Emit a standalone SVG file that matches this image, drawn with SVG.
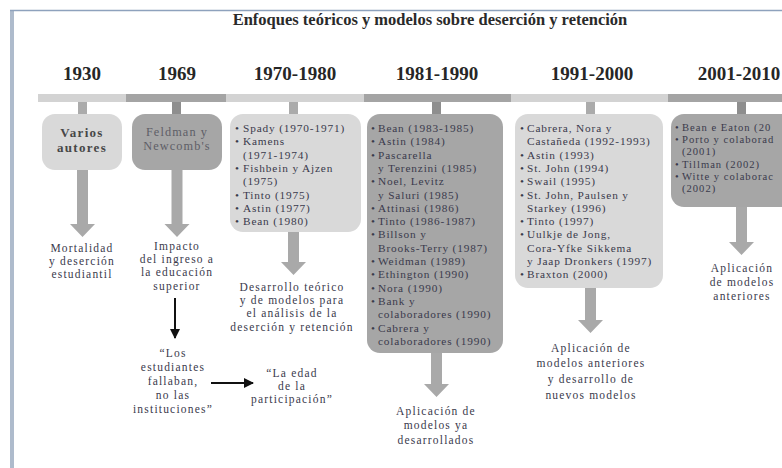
<svg xmlns="http://www.w3.org/2000/svg" width="782" height="468" viewBox="0 0 782 468">
<defs>
<style>
text{font-family:"Liberation Serif","DejaVu Serif",serif;fill:#3a3a4c}
.title{font-size:16.5px;font-weight:bold;fill:#2a2a2a}
.year{font-size:19px;font-weight:bold;fill:#262626;text-anchor:middle}
.lt{fill:#d9d9d9}
.dk{fill:#a6a6a6}
.barl{fill:#d3d3d3}
.bard{fill:#a4a4a4}
.stl{fill:#ababab}
.std{fill:#8e8e8e}
.arr{fill:#a9a9a9}
.lst{font-size:11.3px;letter-spacing:0.85px}
.lst2{font-size:10.6px;letter-spacing:1px}
.res{font-size:11.5px;letter-spacing:1.2px;text-anchor:middle}
.blk{stroke:#111;stroke-width:2;fill:none}
</style>
<marker id="ah" viewBox="0 0 10 10" refX="9" refY="5" markerWidth="5" markerHeight="5" orient="auto" markerUnits="strokeWidth">
<path d="M0,0 L10,5 L0,10 z" fill="#111"/>
</marker>
</defs>
<rect x="0" y="0" width="782" height="468" fill="#ffffff"/>
<rect x="10" y="10" width="4" height="458" fill="#aebbcc"/>
<line x1="10" y1="10.5" x2="782" y2="10.5" stroke="#8ea2bd" stroke-width="1.5"/>

<text class="title" x="430" y="25" text-anchor="middle">Enfoques teóricos y modelos sobre deserción y retención</text>

<g id="timeline">
<rect class="barl" x="38" y="94" width="88" height="8"/>
<rect class="bard" x="126" y="94" width="100" height="8"/>
<rect class="barl" x="226" y="94" width="138" height="8"/>
<rect class="bard" x="364" y="94" width="147" height="8"/>
<rect class="barl" x="511" y="94" width="157" height="8"/>
<rect class="bard" x="668" y="94" width="114" height="8"/>
<text class="year" x="82" y="80">1930</text>
<text class="year" x="177" y="80">1969</text>
<text class="year" x="295" y="80">1970-1980</text>
<text class="year" x="437" y="80">1981-1990</text>
<text class="year" x="592" y="80">1991-2000</text>
<text class="year" x="739" y="80">2001-2010</text>
</g>

<g id="connectors">
<rect class="stl" x="78" y="102" width="9" height="13"/>
<rect class="std" x="172" y="102" width="9" height="13"/>
<rect class="stl" x="289" y="102" width="9" height="13"/>
<rect class="std" x="432" y="102" width="9" height="13"/>
<rect class="stl" x="586" y="102" width="9" height="13"/>
<rect class="std" x="737" y="102" width="9" height="13"/>
<polygon class="arr" points="77,170 88,170 88,224 95,224 82.5,237 70,224 77,224"/>
<polygon class="arr" points="171.5,170 182.5,170 182.5,224 189.5,224 177,237 164.5,224 171.5,224"/>
<polygon class="arr" points="288,232 299,232 299,262 306,262 293.5,275 281,262 288,262"/>
<polygon class="arr" points="431,353 442,353 442,384 449,384 436.5,397 424,384 431,384"/>
<polygon class="arr" points="585,288 596,288 596,320 603,320 590.5,333 578,320 585,320"/>
<polygon class="arr" points="736,207 747,207 747,242 754,242 741.5,255 729,242 736,242"/>
<line class="blk" x1="175" y1="298" x2="175" y2="338" marker-end="url(#ah)"/>
<line class="blk" x1="211" y1="383" x2="253" y2="383" marker-end="url(#ah)"/>
</g>

<g id="n1930">
<rect class="lt" x="42" y="114" width="80" height="56" rx="13"/>
<text x="82" y="137" text-anchor="middle" font-size="13" font-weight="bold" letter-spacing="1.3" style="fill:#474747">Varios</text>
<text x="82" y="152" text-anchor="middle" font-size="13" font-weight="bold" letter-spacing="1.3" style="fill:#474747">autores</text>
</g>
<g id="r1930">
<text class="res" x="82" y="252">Mortalidad</text>
<text class="res" x="82" y="265">y deserción</text>
<text class="res" x="82" y="278">estudiantil</text>
</g>

<g id="n1969">
<rect class="dk" x="132" y="114" width="90" height="56" rx="13"/>
<text x="177" y="136" text-anchor="middle" font-size="12.3" letter-spacing="1.1" style="fill:#5e5e66">Feldman y</text>
<text x="177" y="150" text-anchor="middle" font-size="12.3" letter-spacing="1.1" style="fill:#5e5e66">Newcomb's</text>
</g>
<g id="r1969">
<text class="res" x="177" y="250">Impacto</text>
<text class="res" x="177" y="263">del ingreso a</text>
<text class="res" x="177" y="276">la educación</text>
<text class="res" x="177" y="290">superior</text>
</g>
<g id="q1">
<text class="res" x="173" y="357">“Los</text>
<text class="res" x="173" y="371">estudiantes</text>
<text class="res" x="173" y="385">fallaban,</text>
<text class="res" x="173" y="399">no las</text>
<text class="res" x="173" y="413">instituciones”</text>
</g>
<g id="q2">
<text class="res" x="292" y="377">“La edad</text>
<text class="res" x="292" y="390">de la</text>
<text class="res" x="292" y="403">participación”</text>
</g>

<g id="n1970">
<rect class="lt" x="230" y="114" width="131" height="118" rx="13"/>
<text class="lst">
<tspan x="235" y="132">•</tspan><tspan x="243" y="132">Spady (1970-1971)</tspan>
<tspan x="235" y="145.3">•</tspan><tspan x="243" y="145.3">Kamens</tspan>
<tspan x="243" y="158.6">(1971-1974)</tspan>
<tspan x="235" y="171.9">•</tspan><tspan x="243" y="171.9">Fishbein y Ajzen</tspan>
<tspan x="243" y="185.2">(1975)</tspan>
<tspan x="235" y="198.5">•</tspan><tspan x="243" y="198.5">Tinto (1975)</tspan>
<tspan x="235" y="211.8">•</tspan><tspan x="243" y="211.8">Astin (1977)</tspan>
<tspan x="235" y="225.1">•</tspan><tspan x="243" y="225.1">Bean (1980)</tspan>
</text>
</g>
<g id="r1970">
<text class="res" x="292" y="291">Desarrollo teórico</text>
<text class="res" x="292" y="304">y de modelos para</text>
<text class="res" x="292" y="317">el análisis de la</text>
<text class="res" x="292" y="331">deserción y retención</text>
</g>

<g id="n1981">
<rect class="dk" x="367" y="114" width="136" height="239" rx="13"/>
<text class="lst">
<tspan x="371" y="132">•</tspan><tspan x="378" y="132">Bean (1983-1985)</tspan>
<tspan x="371" y="145.3">•</tspan><tspan x="378" y="145.3">Astin (1984)</tspan>
<tspan x="371" y="158.6">•</tspan><tspan x="378" y="158.6">Pascarella</tspan>
<tspan x="378" y="171.9">y Terenzini (1985)</tspan>
<tspan x="371" y="185.2">•</tspan><tspan x="378" y="185.2">Noel, Levitz</tspan>
<tspan x="378" y="198.5">y Saluri (1985)</tspan>
<tspan x="371" y="211.8">•</tspan><tspan x="378" y="211.8">Attinasi (1986)</tspan>
<tspan x="371" y="225.1">•</tspan><tspan x="378" y="225.1">Tinto (1986-1987)</tspan>
<tspan x="371" y="238.4">•</tspan><tspan x="378" y="238.4">Billson y</tspan>
<tspan x="378" y="251.7">Brooks-Terry (1987)</tspan>
<tspan x="371" y="265">•</tspan><tspan x="378" y="265">Weidman (1989)</tspan>
<tspan x="371" y="278.3">•</tspan><tspan x="378" y="278.3">Ethington (1990)</tspan>
<tspan x="371" y="291.6">•</tspan><tspan x="378" y="291.6">Nora (1990)</tspan>
<tspan x="371" y="304.9">•</tspan><tspan x="378" y="304.9">Bank y</tspan>
<tspan x="378" y="318.2">colaboradores (1990)</tspan>
<tspan x="371" y="331.5">•</tspan><tspan x="378" y="331.5">Cabrera y</tspan>
<tspan x="378" y="344.8">colaboradores (1990)</tspan>
</text>
</g>
<g id="r1981">
<text class="res" x="436" y="415">Aplicación de</text>
<text class="res" x="436" y="429">modelos  ya</text>
<text class="res" x="436" y="444">desarrollados</text>
</g>

<g id="n1991">
<rect class="lt" x="515" y="114" width="148" height="174" rx="13"/>
<text class="lst">
<tspan x="520" y="132">•</tspan><tspan x="527" y="132">Cabrera, Nora y</tspan>
<tspan x="527" y="145.3">Castañeda (1992-1993)</tspan>
<tspan x="520" y="158.6">•</tspan><tspan x="527" y="158.6">Astin (1993)</tspan>
<tspan x="520" y="171.9">•</tspan><tspan x="527" y="171.9">St. John (1994)</tspan>
<tspan x="520" y="185.2">•</tspan><tspan x="527" y="185.2">Swail (1995)</tspan>
<tspan x="520" y="198.5">•</tspan><tspan x="527" y="198.5">St. John, Paulsen y</tspan>
<tspan x="527" y="211.8">Starkey (1996)</tspan>
<tspan x="520" y="225.1">•</tspan><tspan x="527" y="225.1">Tinto (1997)</tspan>
<tspan x="520" y="238.4">•</tspan><tspan x="527" y="238.4">Uulkje de Jong,</tspan>
<tspan x="527" y="251.7">Cora-Yfke Sikkema</tspan>
<tspan x="527" y="265">y Jaap Dronkers (1997)</tspan>
<tspan x="520" y="278.3">•</tspan><tspan x="527" y="278.3">Braxton (2000)</tspan>
</text>
</g>
<g id="r1991">
<text class="res" x="591" y="352">Aplicación de</text>
<text class="res" x="591" y="367">modelos anteriores</text>
<text class="res" x="591" y="383">y desarrollo de</text>
<text class="res" x="591" y="399">nuevos modelos</text>
</g>

<g id="n2001">
<rect class="dk" x="671" y="114" width="125" height="93" rx="13"/>
<text class="lst2">
<tspan x="675" y="131">•</tspan><tspan x="682" y="131">Bean e Eaton (20</tspan>
<tspan x="675" y="143.2">•</tspan><tspan x="682" y="143.2">Porto  y colaborad</tspan>
<tspan x="682" y="155.4">(2001)</tspan>
<tspan x="675" y="167.6">•</tspan><tspan x="682" y="167.6">Tillman (2002)</tspan>
<tspan x="675" y="179.8">•</tspan><tspan x="682" y="179.8">Witte y colaborac</tspan>
<tspan x="682" y="192">(2002)</tspan>
</text>
</g>
<g id="r2001">
<text class="res" x="742" y="272">Aplicación</text>
<text class="res" x="742" y="286">de modelos</text>
<text class="res" x="742" y="300">anteriores</text>
</g>
</svg>
